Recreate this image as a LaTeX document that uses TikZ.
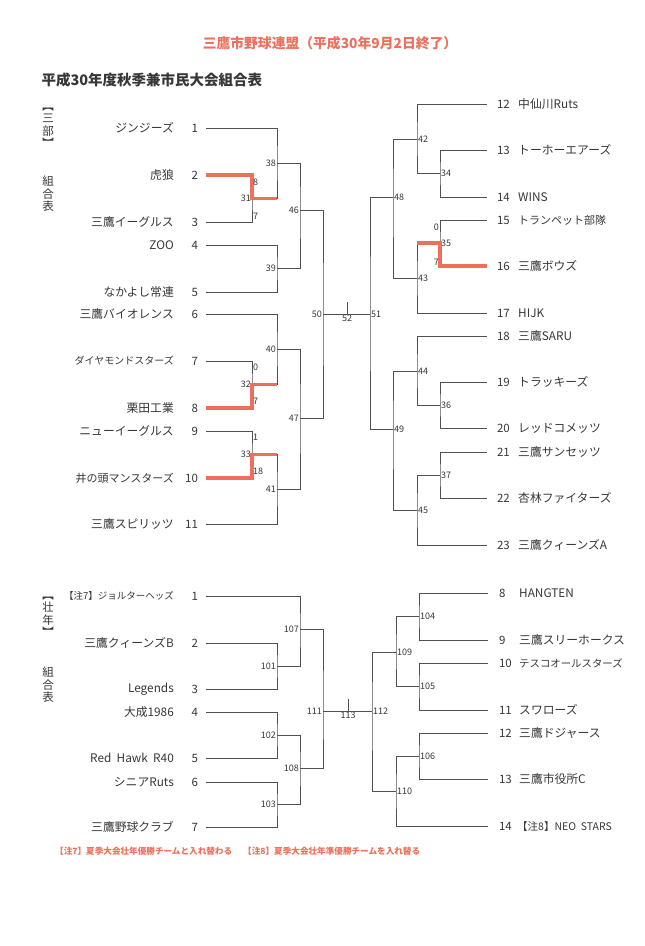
\documentclass[tikz,border=0pt]{standalone}
\usepackage{fontspec}
\setmainfont{Noto Sans CJK JP}
\usetikzlibrary{positioning,calc}
\definecolor{ink}{RGB}{55,55,55}
\definecolor{wirec}{RGB}{80,80,80}
\definecolor{salmon}{RGB}{238,112,92}

\tikzset{
  team/.style={anchor=east,inner sep=0pt,text=ink,font=\fontsize{11.8}{13}\selectfont},
  teamr/.style={team,anchor=west},
  seed/.style={anchor=east,inner sep=0pt,outer xsep=8pt,text=ink,font=\fontsize{11.5}{13}\selectfont},
  seedr/.style={seed,anchor=west,outer xsep=10pt},
  jnum/.style={inner sep=1pt,text=ink,font=\fontsize{9}{10}\selectfont},
  jl/.style={label={[jnum]left:#1}},
  jr/.style={label={[jnum]right:#1}},
  score/.style={jnum},
  wire/.style={draw=wirec,line width=1pt},
  win/.style={draw=salmon,line width=3.5pt},
  side/.style={align=center,inner sep=0pt,text=ink,font=\fontsize{11.5}{12.5}\selectfont},
  title/.style={text=salmon,font=\bfseries\fontsize{13.8}{15}\selectfont},
  sub/.style={anchor=west,text=ink,font=\bfseries\fontsize{14.5}{16}\selectfont},
  note/.style={anchor=west,inner sep=0pt,text=salmon,font=\bfseries\fontsize{8.6}{10}\selectfont}
}

\begin{document}
\begin{tikzpicture}[x=1pt,y=-1pt]
  \fill[white] (0,0) rectangle (645,946);
  \useasboundingbox (0,0) rectangle (645,946);

  % headings
  \node[title] (head) at (330,43) {三鷹市野球連盟（平成30年9月2日終了）};
  \node[sub] (sub) at (38,80) {平成30年度秋季兼市民大会組合表};
  \node[side] (part1) at (48,128) {︻\\三\\部\\︼};
  \node[side] (list1) at (48,194) {組\\合\\表};
  \node[side] (part2) at (48,617) {︻\\壮\\年\\︼};
  \node[side] (list2) at (48,685) {組\\合\\表};

  % teams, left half
  \node[seed] (s1) at (206,128) {1};
  \node[seed] (s2) at (206,175) {2};
  \node[seed] (s3) at (206,222) {3};
  \node[seed] (s4) at (206,245) {4};
  \node[seed] (s5) at (206,292) {5};
  \node[seed] (s6) at (206,314) {6};
  \node[seed] (s7) at (206,361) {7};
  \node[seed] (s8) at (206,408) {8};
  \node[seed] (s9) at (206,431) {9};
  \node[seed] (s10) at (206,478) {10};
  \node[seed] (s11) at (206,524) {11};
  \node[team] (t1) at (174,128) {ジンジーズ};
  \node[team] (t2) at (174,175) {虎狼};
  \node[team] (t3) at (174,222) {三鷹イーグルス};
  \node[team] (t4) at (174,245) {ZOO};
  \node[team] (t5) at (174,292) {なかよし常連};
  \node[team] (t6) at (174,314) {三鷹バイオレンス};
  \node[team,font=\fontsize{10}{12}\selectfont] (t7) at (174,361) {ダイヤモンドスターズ};
  \node[team] (t8) at (174,408) {栗田工業};
  \node[team] (t9) at (174,431) {ニューイーグルス};
  \node[team,font=\fontsize{11}{12}\selectfont] (t10) at (174,478) {井の頭マンスターズ};
  \node[team] (t11) at (174,524) {三鷹スピリッツ};

  % teams, right half
  \node[seedr] (s12) at (487,104) {12};
  \node[seedr] (s13) at (487,150) {13};
  \node[seedr] (s14) at (487,197) {14};
  \node[seedr] (s15) at (487,220) {15};
  \node[seedr] (s16) at (487,266) {16};
  \node[seedr] (s17) at (487,313) {17};
  \node[seedr] (s18) at (487,336) {18};
  \node[seedr] (s19) at (487,382) {19};
  \node[seedr] (s20) at (487,428) {20};
  \node[seedr] (s21) at (487,452) {21};
  \node[seedr] (s22) at (487,498) {22};
  \node[seedr] (s23) at (487,545) {23};
  \node[teamr] (t12) at (518,104) {中仙川Ruts};
  \node[teamr] (t13) at (518,150) {トーホーエアーズ};
  \node[teamr] (t14) at (518,197) {WINS};
  \node[teamr,font=\fontsize{11}{12}\selectfont] (t15) at (518,220) {トランペット部隊};
  \node[teamr] (t16) at (518,266) {三鷹ボウズ};
  \node[teamr] (t17) at (518,313) {HIJK};
  \node[teamr] (t18) at (518,336) {三鷹SARU};
  \node[teamr] (t19) at (518,382) {トラッキーズ};
  \node[teamr] (t20) at (518,428) {レッドコメッツ};
  \node[teamr] (t21) at (518,452) {三鷹サンセッツ};
  \node[teamr] (t22) at (518,498) {杏林ファイターズ};
  \node[teamr] (t23) at (518,545) {三鷹クィーンズA};

  % rounds
  \coordinate[jl=31] (m31) at (252,198.5);
  \coordinate[jl=38] (m38) at (277,163);
  \coordinate[jl=39] (m39) at (277,268.5);
  \coordinate[jl=46] (m46) at (300,210);
  \coordinate[jl=32] (m32) at (252,384.5);
  \coordinate[jl=40] (m40) at (277,349);
  \coordinate[jl=33] (m33) at (252,454.5);
  \coordinate[jl=41] (m41) at (277,489);
  \coordinate[jl=47] (m47) at (300,418);
  \coordinate[jl=50] (m50) at (323,314);
  \coordinate[jr=34] (m34) at (440,173.5);
  \coordinate[jr=42] (m42) at (417,139);
  \coordinate[jr=35] (m35) at (440,243);
  \coordinate[jr=43] (m43) at (417,278);
  \coordinate[jr=48] (m48) at (393,197);
  \coordinate[jr=36] (m36) at (440,405);
  \coordinate[jr=44] (m44) at (417,371);
  \coordinate[jr=37] (m37) at (440,475);
  \coordinate[jr=45] (m45) at (417,510);
  \coordinate[jr=49] (m49) at (393,429);
  \coordinate[jr=51] (m51) at (370,314);
  \coordinate[label={[jnum]below:52}] (m52) at (347,314);
  \coordinate (f52) at (347,302);

  \draw[wire] (s2) -| (m31) |- (s3);
  \draw[wire] (s1) -| (m38) |- (m31);
  \draw[wire] (s4) -| (m39) |- (s5);
  \draw[wire] (m38) -| (m46) |- (m39);
  \draw[wire] (s7) -| (m32) |- (s8);
  \draw[wire] (s6) -| (m40) |- (m32);
  \draw[wire] (s9) -| (m33) |- (s10);
  \draw[wire] (m33) -| (m41) |- (s11);
  \draw[wire] (m40) -| (m47) |- (m41);
  \draw[wire] (m46) -| (m50) |- (m47);
  \draw[wire] (s13) -| (m34) |- (s14);
  \draw[wire] (s12) -| (m42) |- (m34);
  \draw[wire] (s15) -| (m35) |- (s16);
  \draw[wire] (m35) -| (m43) |- (s17);
  \draw[wire] (m42) -| (m48) |- (m43);
  \draw[wire] (s19) -| (m36) |- (s20);
  \draw[wire] (s18) -| (m44) |- (m36);
  \draw[wire] (s21) -| (m37) |- (s22);
  \draw[wire] (m37) -| (m45) |- (s23);
  \draw[wire] (m44) -| (m49) |- (m45);
  \draw[wire] (m48) -| (m51) |- (m49);
  \draw[wire] (m50) -- (m51);
  \draw[wire] (m52) -- (f52);

  % winners and scores
  \draw[win] (s2) -| (m31) -- (m31 -| m38);
  \draw[win] (s8) -| (m32) -- (m32 -| m40);
  \draw[win] (s10) -| (m33) -- (m33 -| m41);
  \draw[win] (s16) -| (m35) -- (m35 -| m43);
  \node[score,anchor=west] (p31a) at ([yshift=16]m31) {8};
  \node[score,anchor=west] (p31b) at ([yshift=-18]m31) {7};
  \node[score,anchor=west] (p32a) at ([yshift=17]m32) {0};
  \node[score,anchor=west] (p32b) at ([yshift=-17]m32) {7};
  \node[score,anchor=west] (p33a) at ([yshift=17]m33) {1};
  \node[score,anchor=west] (p33b) at ([yshift=-17]m33) {18};
  \node[score,anchor=east] (p35a) at ([yshift=16]m35) {0};
  \node[score,anchor=east] (p35b) at ([yshift=-19]m35) {7};

  % second bracket
  \node[seed] (v1) at (206,596) {1};
  \node[seed] (v2) at (206,643) {2};
  \node[seed] (v3) at (206,689) {3};
  \node[seed] (v4) at (206,712) {4};
  \node[seed] (v5) at (206,758) {5};
  \node[seed] (v6) at (206,782) {6};
  \node[seed] (v7) at (206,827) {7};
  \node[team,font=\fontsize{9.5}{11}\selectfont] (u1) at (174,596) {【注7】ジョルターヘッズ};
  \node[team] (u2) at (174,643) {三鷹クィーンズB};
  \node[team] (u3) at (174,689) {Legends};
  \node[team] (u4) at (174,712) {大成1986};
  \node[team] (u5) at (174,758) {Red\ \ Hawk\ \ R40};
  \node[team] (u6) at (174,782) {シニアRuts};
  \node[team] (u7) at (174,827) {三鷹野球クラブ};
  \node[seedr,outer xsep=11pt] (v8) at (488,593) {8};
  \node[seedr,outer xsep=11pt] (v9) at (488,640) {9};
  \node[seedr,outer xsep=11pt] (v10) at (488,663) {10};
  \node[seedr,outer xsep=11pt] (v11) at (488,710) {11};
  \node[seedr,outer xsep=11pt] (v12) at (488,733) {12};
  \node[seedr,outer xsep=11pt] (v13) at (488,779) {13};
  \node[seedr,outer xsep=11pt] (v14) at (488,826) {14};
  \node[teamr] (u8) at (519,593) {HANGTEN};
  \node[teamr] (u9) at (519,640) {三鷹スリーホークス};
  \node[teamr,font=\fontsize{10.4}{12}\selectfont] (u10) at (519,663) {テスコオールスターズ};
  \node[teamr] (u11) at (519,710) {スワローズ};
  \node[teamr] (u12) at (519,733) {三鷹ドジャース};
  \node[teamr] (u13) at (519,779) {三鷹市役所C};
  \node[teamr,font=\fontsize{10.5}{12}\selectfont] (u14) at (517,826) {【注8】NEO\ \ STARS};

  \coordinate[jl=101] (m101) at (277,666);
  \coordinate[jl=107] (m107) at (300,629);
  \coordinate[jl=102] (m102) at (277,735);
  \coordinate[jl=103] (m103) at (277,804.5);
  \coordinate[jl=108] (m108) at (300,768);
  \coordinate[jl=111] (m111) at (323,711);
  \coordinate[jr=104] (m104) at (419,616.5);
  \coordinate[jr=105] (m105) at (419,686.5);
  \coordinate[jr=109] (m109) at (396,652);
  \coordinate[jr=106] (m106) at (419,756);
  \coordinate[jr=110] (m110) at (396,791.5);
  \coordinate[jr=112] (m112) at (372,711);
  \coordinate[label={[jnum]below:113}] (m113) at (348,711);
  \coordinate (f113) at (348,699);

  \draw[wire] (v2) -| (m101) |- (v3);
  \draw[wire] (v1) -| (m107) |- (m101);
  \draw[wire] (v4) -| (m102) |- (v5);
  \draw[wire] (v6) -| (m103) |- (v7);
  \draw[wire] (m102) -| (m108) |- (m103);
  \draw[wire] (m107) -| (m111) |- (m108);
  \draw[wire] (v8) -| (m104) |- (v9);
  \draw[wire] (v10) -| (m105) |- (v11);
  \draw[wire] (m104) -| (m109) |- (m105);
  \draw[wire] (v12) -| (m106) |- (v13);
  \draw[wire] (m106) -| (m110) |- (v14);
  \draw[wire] (m109) -| (m112) |- (m110);
  \draw[wire] (m111) -- (m112);
  \draw[wire] (m113) -- (f113);

  % notes
  \node[note] (note7) at (55,851) {【注7】夏季大会壮年優勝チームと入れ替わる};
  \node[note] (note8) at (243,851) {【注8】夏季大会壮年準優勝チームを入れ替る};
\end{tikzpicture}
\end{document}
